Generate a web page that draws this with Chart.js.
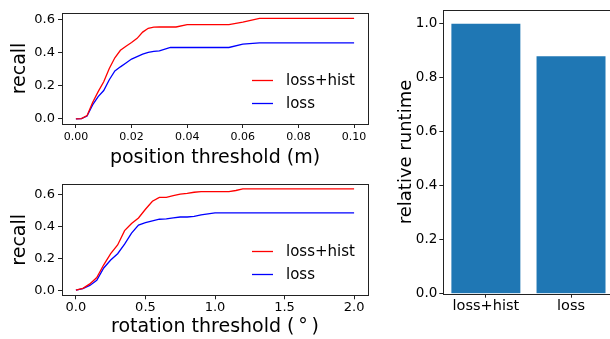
<!DOCTYPE html>
<html lang="en">
<head>
<meta charset="UTF-8">
<title>Recall and runtime</title>
<script src="https://cdn.jsdelivr.net/npm/chart.js@4"></script>
<style>
  html, body { margin: 0; padding: 0; background: #fff; overflow: hidden; }
  body { width: 610px; height: 339px; position: relative; }
  canvas { position: absolute; }
  #posChart { left: 0; top: 0; }
  #rotChart { left: 0; top: 170px; }
  #barChart { left: 380px; top: 0; }
</style>
</head>
<body>
<canvas id="posChart" width="380" height="170"></canvas>
<canvas id="rotChart" width="380" height="169"></canvas>
<canvas id="barChart" width="240" height="339"></canvas>
<script>
    // values
    const seriesLabels = ['loss+hist', 'loss'];

    const posThresh = [0, 0.002, 0.004, 0.006, 0.008, 0.010, 0.012, 0.014, 0.016, 0.018, 0.020, 0.022,
        0.024, 0.026, 0.028, 0.030, 0.034, 0.036, 0.040, 0.055, 0.060, 0.066, 0.100];
    const posLossHist = [0, 0.002, 0.020, 0.100, 0.165, 0.225, 0.305, 0.370, 0.415, 0.440, 0.462, 0.487,
        0.525, 0.548, 0.555, 0.556, 0.556, 0.556, 0.570, 0.570, 0.585, 0.608, 0.608];
    const posLoss = [0, 0.002, 0.018, 0.085, 0.135, 0.172, 0.237, 0.290, 0.315, 0.338, 0.362, 0.377,
        0.392, 0.403, 0.408, 0.412, 0.432, 0.432, 0.432, 0.432, 0.452, 0.460, 0.460];

    const rotThresh = [0, 0.05, 0.10, 0.15, 0.20, 0.25, 0.30, 0.35, 0.40, 0.45, 0.50, 0.55, 0.60, 0.65,
        0.70, 0.75, 0.80, 0.85, 0.90, 1.00, 1.10, 1.15, 1.20, 2.00];
    const rotLossHist = [0, 0.012, 0.040, 0.080, 0.160, 0.230, 0.285, 0.375, 0.420, 0.455, 0.510, 0.560,
        0.585, 0.585, 0.595, 0.605, 0.610, 0.617, 0.621, 0.621, 0.621, 0.628, 0.638, 0.638];
    const rotLoss = [0, 0.010, 0.030, 0.062, 0.140, 0.190, 0.230, 0.290, 0.360, 0.410, 0.425, 0.437,
        0.447, 0.449, 0.455, 0.461, 0.461, 0.465, 0.474, 0.487, 0.487, 0.487, 0.487, 0.487];

    const posTicks = [0, 0.02, 0.04, 0.06, 0.08, 0.10];
    const rotTicks = [0, 0.5, 1.0, 1.5, 2.0];
    const recallTicks = [0, 0.2, 0.4, 0.6];

    const runtimeLabels = ['loss+hist', 'loss'];
    const runtimeValues = [1.0, 0.88];
    const runtimeTicks = [0, 0.2, 0.4, 0.6, 0.8, 1.0];

    Chart.defaults.font.family = '"DejaVu Sans", sans-serif';
    Chart.defaults.color = '#000';

    const spine = '#222';

    // matplotlib style box round the plot area
    const frame = {
        id: 'frame',
        afterDatasetsDraw(chart) {
            const {ctx, chartArea: a} = chart;
            const l = Math.round(a.left) + 0.5, t = Math.round(a.top) + 0.5;
            const r = Math.round(a.right) + 0.5, b = Math.round(a.bottom) + 0.5;
            ctx.save();
            ctx.strokeStyle = spine;
            ctx.lineWidth = 1;
            ctx.strokeRect(l, t, r - l, b - t);
            ctx.restore();
        }
    };

    // legend drawn inside the plot, lower right
    const innerLegend = {
        id: 'innerLegend',
        afterDraw(chart, args, opts) {
            if (!opts.show) return;
            const {ctx, chartArea: a} = chart;
            ctx.save();
            ctx.font = '15px "DejaVu Sans"';
            ctx.textBaseline = 'middle';
            chart.data.datasets.forEach((ds, i) => {
                const y = Math.round(a.bottom - 44 + i * 22.7) + 0.5;
                ctx.strokeStyle = ds.borderColor;
                ctx.lineWidth = 1.3;
                ctx.beginPath();
                ctx.moveTo(a.right - 116, y);
                ctx.lineTo(a.right - 95, y);
                ctx.stroke();
                ctx.fillStyle = '#000';
                ctx.fillText(ds.label, a.right - 82, y + 1);
            });
            ctx.restore();
        }
    };

    function lineChart(id, xs, a, b, opt) {
        const pts = ys => xs.map((x, i) => ({x: x, y: ys[i]}));
        return new Chart(document.getElementById(id), {
            type: 'line',
            data: {
                datasets: [
                    {label: seriesLabels[0], data: pts(a), borderColor: '#ff0000', borderWidth: 1.3, pointRadius: 0, tension: 0},
                    {label: seriesLabels[1], data: pts(b), borderColor: '#0000ff', borderWidth: 1.3, pointRadius: 0, tension: 0}
                ]
            },
            options: {
                responsive: false,
                animation: false,
                devicePixelRatio: 1,
                layout: {padding: {top: opt.top, right: 12, left: 0, bottom: 0}},
                plugins: {legend: {display: false}, tooltip: {enabled: false}, innerLegend: {show: true}},
                scales: {
                    x: {
                        type: 'linear',
                        min: opt.xmin,
                        max: opt.xmax,
                        afterBuildTicks: s => { s.ticks = opt.xticks.map(v => ({value: v})); },
                        afterFit: s => { s.height = opt.xh; },
                        border: {display: false},
                        grid: {drawOnChartArea: false, drawTicks: true, tickLength: 4, color: spine},
                        ticks: {
                            autoSkip: false, maxRotation: 0, padding: opt.xpad,
                            font: {size: opt.xfont},
                            callback: v => v.toFixed(opt.xdec)
                        },
                        title: {display: true, text: opt.xtitle, font: {size: 19}, padding: {top: 0, bottom: 1}}
                    },
                    y: {
                        min: opt.ymin,
                        max: opt.ymax,
                        afterBuildTicks: s => { s.ticks = recallTicks.map(v => ({value: v})); },
                        afterFit: s => { s.width = 62; },
                        border: {display: false},
                        grid: {drawOnChartArea: false, drawTicks: true, tickLength: 4, color: spine},
                        ticks: {padding: 3, font: {size: 13}, callback: v => v.toFixed(1)},
                        title: {display: true, text: 'recall', font: {size: 19}, padding: {top: 9, bottom: 0}}
                    }
                }
            },
            plugins: [frame, innerLegend]
        });
    }

    lineChart('posChart', posThresh, posLossHist, posLoss, {
        top: 13, xh: 46, xmin: -0.005, xmax: 0.105, ymin: -0.0305, ymax: 0.6405,
        xticks: posTicks, xdec: 2, xfont: 11, xpad: 3, xtitle: 'position threshold (m)'
    });

    lineChart('rotChart', rotThresh, rotLossHist, rotLoss, {
        top: 14.3, xh: 43.7, xmin: -0.1, xmax: 2.1, ymin: -0.032, ymax: 0.667,
        xticks: rotTicks, xdec: 1, xfont: 13, xpad: 1, xtitle: 'rotation threshold (\u2009°\u2009)'
    });

    new Chart(document.getElementById('barChart'), {
        type: 'bar',
        data: {
            labels: runtimeLabels,
            datasets: [{
                data: runtimeValues,
                backgroundColor: '#1f77b4',
                borderWidth: 0,
                inflateAmount: 0,
                barPercentage: 0.81,
                categoryPercentage: 1.0
            }]
        },
        options: {
            responsive: false,
            animation: false,
            devicePixelRatio: 1,
            layout: {padding: {top: 10.3, right: 6.4, left: 0, bottom: 0}},
            plugins: {legend: {display: false}, tooltip: {enabled: false}},
            scales: {
                x: {
                    afterFit: s => { s.height = 45.3; },
                    border: {display: false},
                    grid: {offset: false, drawOnChartArea: false, drawTicks: true, tickLength: 4, color: spine},
                    ticks: {padding: 0, font: {size: 14.5}}
                },
                y: {
                    min: 0,
                    max: 1.05,
                    afterBuildTicks: s => { s.ticks = runtimeTicks.map(v => ({value: v})); },
                    afterFit: s => { s.width = 63.3; },
                    border: {display: false},
                    grid: {drawOnChartArea: false, drawTicks: true, tickLength: 4, color: spine},
                    ticks: {padding: 2, font: {size: 13.5}, callback: v => v.toFixed(1)},
                    title: {display: true, text: 'relative runtime', font: {size: 18}, padding: {top: 16, bottom: 0}}
                }
            }
        },
        plugins: [frame]
    });
</script>
</body>
</html>
